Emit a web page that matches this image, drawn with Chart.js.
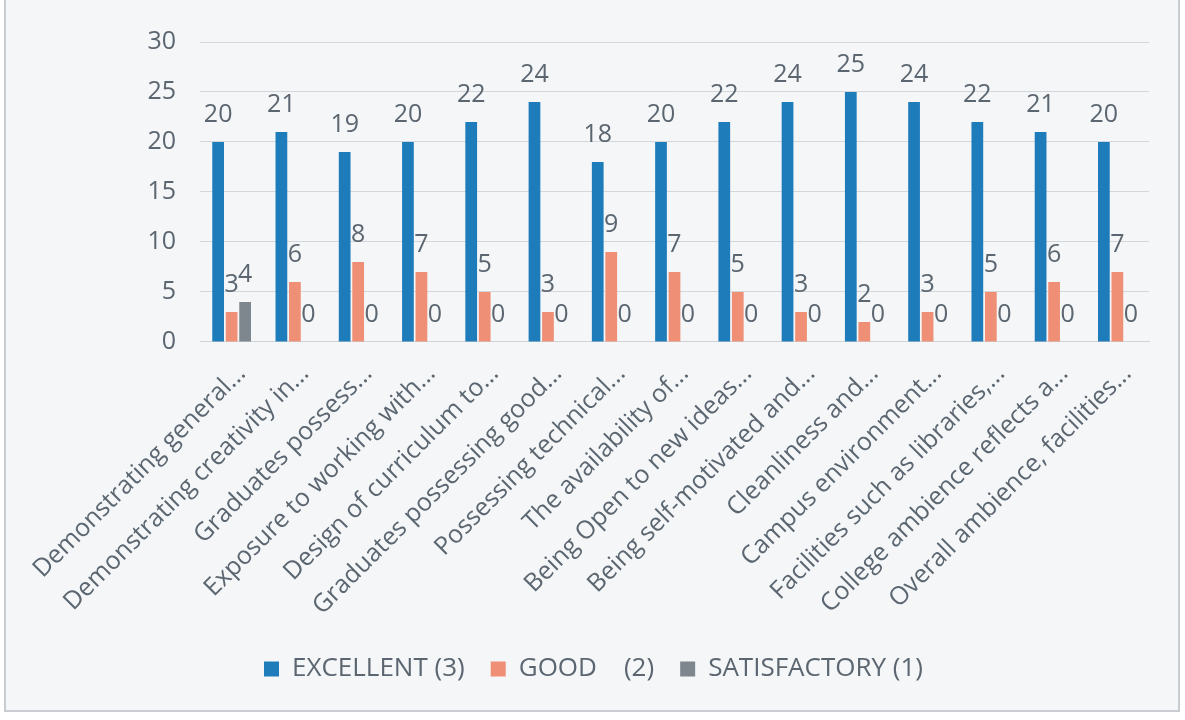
<!DOCTYPE html>
<html>
<head>
<meta charset="utf-8">
<script src="https://cdn.jsdelivr.net/npm/chart.js@4.4.0/dist/chart.umd.min.js"></script>
<style>
  html, body { margin: 0; padding: 0; background: #ffffff; }
  .frame {
    position: absolute; left: 4px; top: 0px; width: 1176px; height: 712px;
    background: #f4f6f8; border: 2px solid #c9cdd1; border-top: none; box-sizing: border-box;
  }
  .chartBox { position: absolute; left: 0; top: 0; width: 1185px; height: 720px; }
</style>
</head>
<body>
<div class="frame"></div>
<div class="chartBox"><canvas class="surveyChart" width="1185" height="720"></canvas></div>
<script>
  // survey categories (labels are truncated like in the original)
  const categories = [
    'Demonstrating general...',
    'Demonstrating creativity in...',
    'Graduates possess...',
    'Exposure to working with...',
    'Design of curriculum to...',
    'Graduates possessing good...',
    'Possessing technical...',
    'The availability of...',
    'Being Open to new ideas...',
    'Being self-motivated and...',
    'Cleanliness and...',
    'Campus environment...',
    'Facilities such as libraries,...',
    'College ambience reflects a...',
    'Overall ambience, facilities...'
  ]
  const excellent = [20, 21, 19, 20, 22, 24, 18, 20, 22, 24, 25, 24, 22, 21, 20]
  const good = [3, 6, 8, 7, 5, 3, 9, 7, 5, 3, 2, 3, 5, 6, 7]
  const satisfactory = [4, 0, 0, 0, 0, 0, 0, 0, 0, 0, 0, 0, 0, 0, 0]
  const seriesNames = ['EXCELLENT (3)', 'GOOD\u00a0\u00a0\u00a0\u00a0(2)', 'SATISFACTORY (1)']
  const yTicks = [0, 5, 10, 15, 20, 25, 30]

  const textGray = '#5b6670'

  // draws the value above every bar
  const valueLabels = {
    id: 'valueLabels',
    afterDatasetsDraw(chart) {
      const ctx = chart.ctx
      ctx.save()
      ctx.font = '25px "Open Sans"'
      ctx.fillStyle = textGray
      ctx.textAlign = 'center'
      ctx.textBaseline = 'alphabetic'
      chart.data.datasets.forEach((ds, i) => {
        const meta = chart.getDatasetMeta(i)
        meta.data.forEach((bar, j) => {
          ctx.fillText(String(ds.data[j]), bar.x, bar.y - 20)
        })
      })
      ctx.restore()
    }
  }

  const surveyChart = document.querySelector('.surveyChart').getContext('2d')
  new Chart(surveyChart, {
    type: 'bar',
    data: {
      labels: categories,
      datasets: [
        { label: seriesNames[0], data: excellent, backgroundColor: '#1f7cba' },
        { label: seriesNames[1], data: good, backgroundColor: '#ef8f76' },
        { label: seriesNames[2], data: satisfactory, backgroundColor: '#7f878e' }
      ]
    },
    options: {
      responsive: false,
      animation: false,
      categoryPercentage: 0.64,
      barPercentage: 0.87,
      layout: { padding: { top: 42, right: 36, bottom: 28, left: 38 } },
      scales: {
        x: {
          grid: { display: false },
          border: { color: '#cfd3d7' },
          ticks: {
            color: textGray,
            font: { family: 'Open Sans', size: 25 },
            maxRotation: 45,
            minRotation: 45,
            autoSkip: false,
            labelOffset: 10,
            padding: 9
          }
        },
        y: {
          min: 0,
          max: 30,
          afterBuildTicks: (axis) => { axis.ticks = yTicks.map(v => ({ value: v })) },
          afterFit: (axis) => { axis.width = 162 },
          grid: { color: '#d3d7db', drawTicks: false },
          border: { display: false },
          ticks: {
            color: textGray,
            font: { family: 'Open Sans', size: 25 },
            padding: 24
          }
        }
      },
      plugins: {
        legend: {
          position: 'bottom',
          labels: {
            color: textGray,
            font: { family: 'Open Sans', size: 26 },
            boxWidth: 15,
            boxHeight: 15,
            padding: 26
          }
        },
        tooltip: { enabled: false }
      }
    },
    plugins: [valueLabels]
  })
</script>
</body>
</html>
